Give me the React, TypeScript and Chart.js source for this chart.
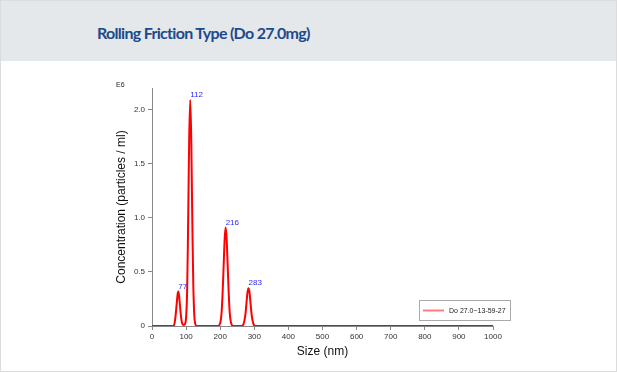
import React, { useEffect, useRef } from "react";
import { Chart, registerables } from "chart.js";

Chart.register(...registerables);

const TITLE = "Rolling Friction Type (Do 27.0mg)";
const SERIES_LABEL = "Do 27.0~13-59-27";
const X_TITLE = "Size (nm)";
const Y_TITLE = "Concentration (particles / ml)";
const Y_UNIT = "E6";

const sizes = [
  0, 60, 65, 69, 72, 75, 77, 79, 82, 85, 89, 93,
  97, 100, 103, 105, 107, 109, 112, 115, 117, 119, 121, 124, 127, 131,
  195, 198, 201, 204, 207, 210, 213, 216, 219, 222, 225, 228, 231, 234, 238,
  265, 268, 271, 274, 277, 280, 283, 286, 289, 292, 295, 298, 302,
  1000,
];
const concentration = [
  0, 0, 0.01, 0.09, 0.19, 0.29, 0.32, 0.29, 0.19, 0.09, 0.02, 0.01,
  0.02, 0.08, 0.32, 0.72, 1.22, 1.72, 2.09, 1.75, 1.27, 0.79, 0.4, 0.1, 0.02, 0,
  0, 0.01, 0.04, 0.12, 0.3, 0.55, 0.8, 0.91, 0.8, 0.55, 0.3, 0.12, 0.04, 0.01, 0,
  0, 0.015, 0.05, 0.11, 0.21, 0.31, 0.35, 0.31, 0.21, 0.11, 0.05, 0.015, 0,
  0,
];
const peakSizes = [77, 112, 216, 283];

const xTickStep = 100;
const yTickStep = 0.5;

export default function App() {
  const ref = useRef<HTMLCanvasElement | null>(null);

  useEffect(() => {
    const canvas = ref.current;
    if (!canvas) return;

    const overlay = {
      id: "overlay",
      afterDatasetsDraw(chart: any) {
        const ctx = chart.ctx;
        const meta = chart.getDatasetMeta(0);
        ctx.save();
        ctx.font = "8px Arial, 'Liberation Sans', sans-serif";
        ctx.fillStyle = "#2a2aff";
        ctx.textAlign = "left";
        ctx.textBaseline = "bottom";
        peakSizes.forEach((p) => {
          const i = sizes.indexOf(p);
          if (i < 0) return;
          const pt = meta.data[i];
          ctx.fillText(String(p), pt.x, pt.y - 1);
        });
        // unit label
        ctx.fillStyle = "#222";
        ctx.font = "7px Arial, 'Liberation Sans', sans-serif";
        ctx.textBaseline = "middle";
        ctx.fillText(Y_UNIT, 116, 24);
        // legend box
        const bx = 419, by = 239, bw = 91, bh = 20;
        ctx.fillStyle = "#fff";
        ctx.fillRect(bx, by, bw, bh);
        ctx.strokeStyle = "#aaa";
        ctx.lineWidth = 1;
        ctx.strokeRect(bx + 0.5, by + 0.5, bw, bh);
        ctx.strokeStyle = "rgba(255,0,0,0.5)";
        ctx.lineWidth = 2;
        ctx.beginPath();
        ctx.moveTo(bx + 4, by + 10.5);
        ctx.lineTo(bx + 25, by + 10.5);
        ctx.stroke();
        ctx.fillStyle = "#222";
        ctx.font = "7px Arial, 'Liberation Sans', sans-serif";
        ctx.textBaseline = "middle";
        ctx.fillText(chart.data.datasets[0].label, bx + 30, by + 11);
        ctx.restore();
      },
    };

    const chart = new Chart(canvas, {
      type: "line",
      data: {
        labels: sizes,
        datasets: [
          {
            label: SERIES_LABEL,
            data: sizes.map((s, i) => ({ x: s, y: concentration[i] })),
            borderColor: "#ff0000",
            borderWidth: 2,
            pointRadius: 0,
            cubicInterpolationMode: "monotone",
            fill: false,
          },
        ],
      },
      options: {
        animation: false,
        responsive: false,
        maintainAspectRatio: false,
        layout: { padding: { left: 114, right: 124, top: 27, bottom: 13 } },
        plugins: {
          legend: { display: false },
          tooltip: { enabled: false },
        },
        scales: {
          x: {
            type: "linear",
            min: 0,
            max: 1000,
            afterFit: (s: any) => {
              s.height = 33;
            },
            border: { color: "#888", width: 1 },
            grid: { drawOnChartArea: false, drawTicks: true, tickLength: 4, color: "#888" },
            ticks: {
              stepSize: xTickStep,
              padding: 2,
              maxRotation: 0,
              color: "#333",
              font: { size: 8, family: "Arial, 'Liberation Sans', sans-serif" },
              callback: (v: any) => String(v),
            },
            title: {
              display: true,
              text: X_TITLE,
              color: "#111",
              padding: { top: 0, bottom: 0 },
              font: { size: 12, family: "Arial, 'Liberation Sans', sans-serif" },
            },
          },
          y: {
            type: "linear",
            min: 0,
            max: 2.2,
            afterFit: (s: any) => {
              s.width = 38;
            },
            border: { color: "#888", width: 1 },
            grid: { drawOnChartArea: false, drawTicks: true, tickLength: 4, color: "#888" },
            ticks: {
              stepSize: yTickStep,
              includeBounds: false,
              padding: 3,
              color: "#333",
              font: { size: 8, family: "Arial, 'Liberation Sans', sans-serif" },
              callback: (v: any) => (Number(v) === 0 ? "0" : Number(v).toFixed(1)),
            },
            title: {
              display: true,
              text: Y_TITLE,
              color: "#111",
              padding: { top: 0, bottom: 0 },
              font: { size: 12, family: "Arial, 'Liberation Sans', sans-serif" },
            },
          },
        },
      },
      plugins: [overlay],
    } as any);

    return () => chart.destroy();
  }, []);

  return (
    <div
      style={{
        position: "absolute",
        left: 0,
        top: 0,
        width: 617,
        height: 372,
        boxSizing: "border-box",
        border: "1px solid #dcdcdc",
        background: "#fff",
        overflow: "hidden",
      }}
    >
      <div
        style={{
          position: "absolute",
          left: 0,
          top: 0,
          width: 617,
          height: 60,
          background: "#e4e8eb",
        }}
      >
        <div
          style={{
            position: "absolute",
            left: 96,
            top: 20,
            fontFamily: "Lato, sans-serif",
            fontWeight: 700,
            fontSize: 16,
            letterSpacing: -0.7,
            color: "#1d4a8a",
            whiteSpace: "nowrap",
            lineHeight: "24px",
          }}
        >
          {TITLE}
        </div>
      </div>
      <canvas
        ref={ref}
        width={617}
        height={311}
        style={{ position: "absolute", left: -1, top: 60, width: 617, height: 311 }}
      />
    </div>
  );
}
